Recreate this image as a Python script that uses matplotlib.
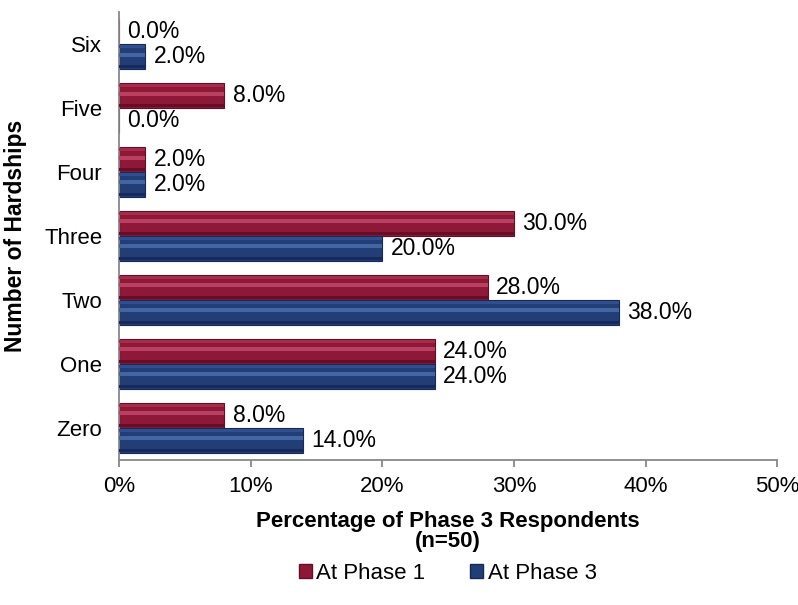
import numpy as np
import matplotlib
matplotlib.use('Agg')
import matplotlib.pyplot as plt
from matplotlib.patches import Patch

plt.rcParams['font.family'] = ['Liberation Sans', 'DejaVu Sans']

CATEGORIES = ['Zero', 'One', 'Two', 'Three', 'Four', 'Five', 'Six']
PHASE1 = [8.0, 24.0, 28.0, 30.0, 2.0, 8.0, 0.0]
PHASE3 = [14.0, 24.0, 38.0, 20.0, 2.0, 0.0, 2.0]
SERIES_NAMES = ['At Phase 1', 'At Phase 3']
X_TICKS = [0, 10, 20, 30, 40, 50]

# (main, light edge, highlight, dark edge)
RED = ('#8e1838', '#a82a4b', '#b9415f', '#620f27')
BLUE = ('#223e76', '#304f8c', '#4564a2', '#16295a')

BAR_H = 0.39


def bevel_bar(ax, y, values, colors):
    main, light, hi, dark = colors
    ax.barh(y, values, height=BAR_H, color=main, edgecolor=dark, linewidth=0.8, zorder=2)
    # a few soft stripes to fake the bevel look, top to bottom
    stripes = [(0.04, 0.16, light), (0.34, 0.50, hi), (0.84, 0.97, dark)]
    for a, b, c in stripes:
        h = BAR_H * (b - a)
        yc = y + BAR_H / 2 - BAR_H * (a + b) / 2
        ax.barh(yc, values, height=h, color=c, linewidth=0, zorder=3)


fig = plt.figure(figsize=(7.98, 6.05), dpi=100)
ax = fig.add_axes([0.149, 0.240, 0.825, 0.740])

y = np.arange(len(CATEGORIES))
y1 = y + BAR_H / 2
y3 = y - BAR_H / 2

bevel_bar(ax, y1, PHASE1, RED)
bevel_bar(ax, y3, PHASE3, BLUE)

for yy, vals in ((y1, PHASE1), (y3, PHASE3)):
    for yi, v in zip(yy, vals):
        ax.annotate('%.1f%%' % v, (v, yi), xytext=(6, 0), textcoords='offset points',
                    ha='left', va='center', fontsize=16.5, color='black')

ax.set_xlim(0, 50)
ax.set_ylim(-0.5, len(CATEGORIES) - 0.5)
ax.set_xticks(X_TICKS)
ax.set_xticklabels(['%d%%' % t for t in X_TICKS], fontsize=16)
ax.set_yticks(y)
ax.set_yticklabels(CATEGORIES, fontsize=16)

for s in ('top', 'right'):
    ax.spines[s].set_visible(False)
for s in ('left', 'bottom'):
    ax.spines[s].set_color('#888888')
    ax.spines[s].set_linewidth(1.3)
ax.tick_params(axis='x', direction='out', length=5, width=1.3, color='#888888', pad=7)
ax.tick_params(axis='y', length=0, pad=12)

ax.set_xlabel('Percentage of Phase 3 Respondents\n(n=50)', fontsize=16,
              fontweight='bold', labelpad=10, linespacing=0.92)
ax.set_ylabel('Number of Hardships', fontsize=16.5, fontweight='bold', labelpad=12)

handles = [Patch(facecolor=RED[0], edgecolor=RED[3]), Patch(facecolor=BLUE[0], edgecolor=BLUE[3])]
fig.legend(handles, SERIES_NAMES, loc='center', bbox_to_anchor=(0.561, 0.052), ncol=2,
           frameon=False, fontsize=16, handlelength=0.6, handleheight=0.6,
           handletextpad=0.2, columnspacing=2.0)

fig.savefig('out.png', dpi=100)
